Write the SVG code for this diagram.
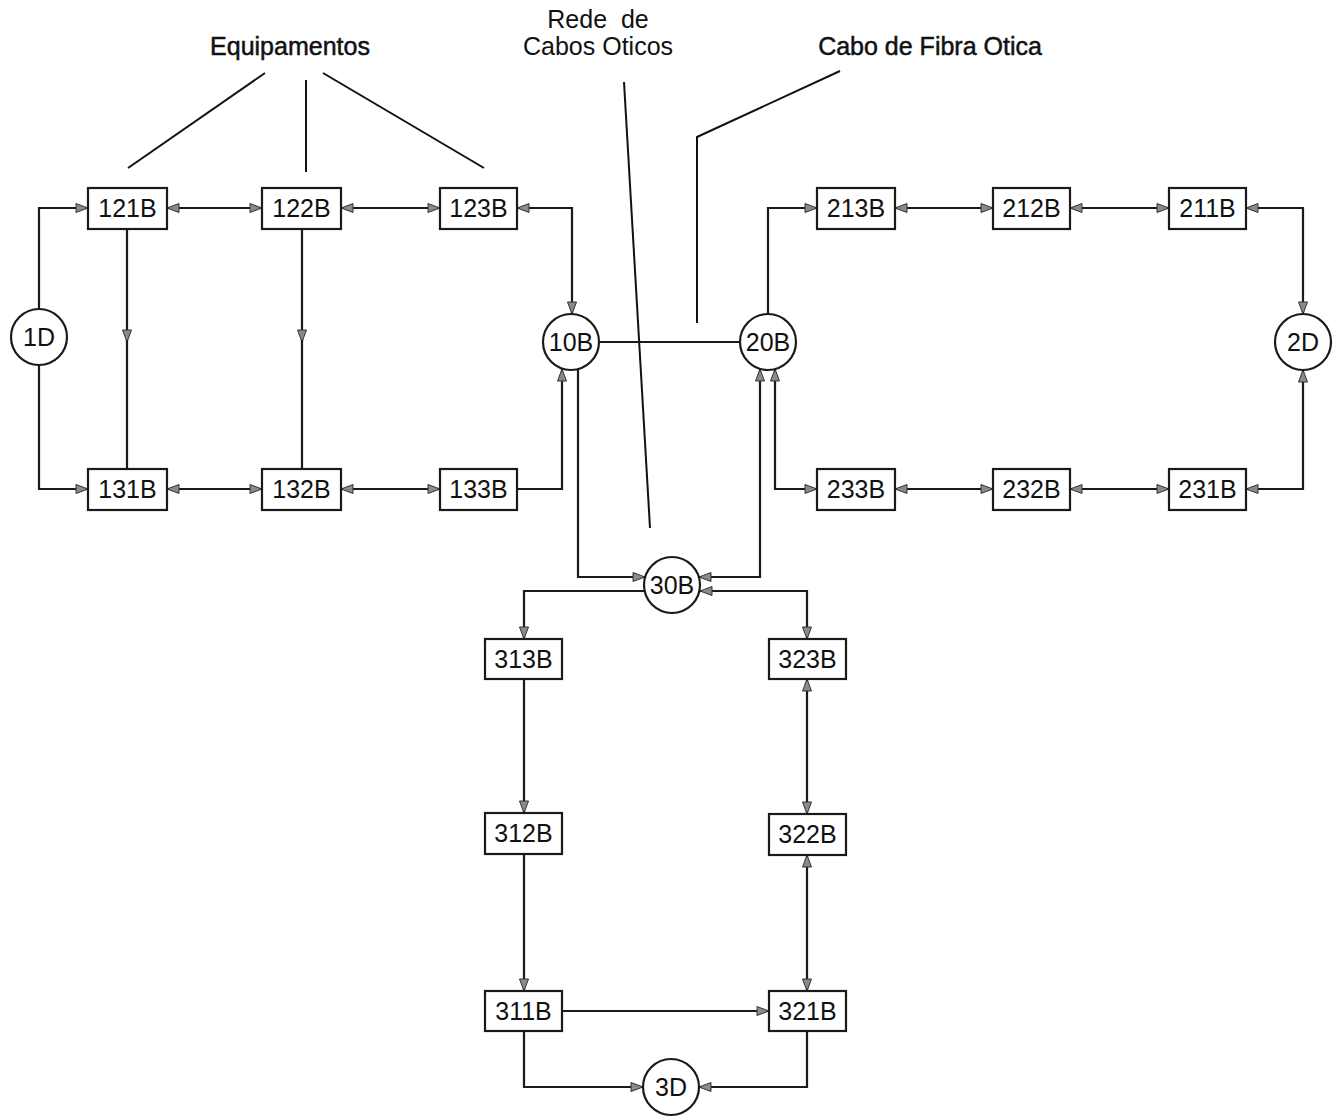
<svg xmlns="http://www.w3.org/2000/svg" width="1339" height="1117" viewBox="0 0 1339 1117">
<style>
.bg{fill:#fff}
.box{fill:#fff;stroke:#1a1a1a;stroke-width:2.2}
.circ{fill:#fff;stroke:#1a1a1a;stroke-width:2.2}
.lbl{font-family:"Liberation Sans",Arial,sans-serif;font-size:25px;fill:#111;text-anchor:middle}
.ann{font-family:"Liberation Sans",Arial,sans-serif;font-size:25px;fill:#111;text-anchor:middle}
.annb{stroke:#111;stroke-width:0.5}
.c{fill:none;stroke:#1a1a1a;stroke-width:2.2}
.e{marker-end:url(#ah)}
.b{marker-start:url(#ah);marker-end:url(#ah)}
.lead{fill:none;stroke:#111;stroke-width:2}
</style>
<defs>
<marker id="ah" markerUnits="userSpaceOnUse" markerWidth="16" markerHeight="14" refX="13" refY="7" orient="auto-start-reverse">
<path d="M1,2.5 L13,7 L1,11.5 z" fill="#8a8a8a" stroke="#333" stroke-width="1"/>
</marker>
</defs>
<rect class="bg" x="0" y="0" width="1339" height="1117"/>

<g id="annotations">
<text class="ann annb" x="290" y="55">Equipamentos</text>
<text class="ann" x="598" y="28" xml:space="preserve">Rede  de</text>
<text class="ann" x="598" y="55">Cabos Oticos</text>
<text class="ann annb" x="930" y="55">Cabo de Fibra Otica</text>
<path class="lead" d="M128,168 L265,73"/>
<path class="lead" d="M306,80 L306,172"/>
<path class="lead" d="M323,73 L484,168"/>
<path class="lead" d="M624,82 L650,528"/>
<path class="lead" d="M840,71 L697,137 L697,323"/>
</g>

<g id="connectors">
<path class="c e" d="M39,309 V208 H88"/>
<path class="c e" d="M39,365 V489 H88"/>
<path class="c b" d="M167,208 H262"/>
<path class="c b" d="M341,208 H440"/>
<path class="c b" d="M517,208 H572 V314"/>
<path class="c e" d="M127,229 V342"/>
<path class="c" d="M127,340 V469"/>
<path class="c e" d="M302,229 V342"/>
<path class="c" d="M302,340 V469"/>
<path class="c b" d="M167,489 H262"/>
<path class="c b" d="M341,489 H440"/>
<path class="c e" d="M517,489 H562 V369"/>
<path class="c e" d="M578,369 V577 H645"/>
<path class="c" d="M599,342 H740"/>
<path class="c e" d="M768,314 V208 H817"/>
<path class="c b" d="M895,208 H993"/>
<path class="c b" d="M1070,208 H1169"/>
<path class="c b" d="M1246,208 H1303 V314"/>
<path class="c b" d="M1303,370 V489 H1246"/>
<path class="c b" d="M895,489 H993"/>
<path class="c b" d="M1070,489 H1169"/>
<path class="c b" d="M775,369 V489 H817"/>
<path class="c b" d="M760,369 V577 H699"/>
<path class="c b" d="M700,591 H807 V639"/>
<path class="c e" d="M644,591 H524 V639"/>
<path class="c e" d="M524,679 V813"/>
<path class="c e" d="M524,854 V991"/>
<path class="c b" d="M807,679 V814"/>
<path class="c b" d="M807,855 V991"/>
<path class="c e" d="M562,1011 H769"/>
<path class="c e" d="M524,1031 V1087 H643"/>
<path class="c e" d="M807,1031 V1087 H699"/>
</g>

<g id="n1D"><circle class="circ" cx="39" cy="337" r="28"/><text class="lbl" x="39" y="346">1D</text></g>
<g id="n10B"><circle class="circ" cx="571" cy="342" r="28"/><text class="lbl" x="571" y="351">10B</text></g>
<g id="n20B"><circle class="circ" cx="768" cy="342" r="28"/><text class="lbl" x="768" y="351">20B</text></g>
<g id="n2D"><circle class="circ" cx="1303" cy="342" r="28"/><text class="lbl" x="1303" y="351">2D</text></g>
<g id="n30B"><circle class="circ" cx="672" cy="585" r="28"/><text class="lbl" x="672" y="594">30B</text></g>
<g id="n3D"><circle class="circ" cx="671" cy="1087" r="28"/><text class="lbl" x="671" y="1096">3D</text></g>

<g id="n121B"><rect class="box" x="88" y="188" width="79" height="41"/><text class="lbl" x="127.5" y="217">121B</text></g>
<g id="n122B"><rect class="box" x="262" y="188" width="79" height="41"/><text class="lbl" x="301.5" y="217">122B</text></g>
<g id="n123B"><rect class="box" x="440" y="188" width="77" height="41"/><text class="lbl" x="478.5" y="217">123B</text></g>
<g id="n131B"><rect class="box" x="88" y="469" width="79" height="41"/><text class="lbl" x="127.5" y="498">131B</text></g>
<g id="n132B"><rect class="box" x="262" y="469" width="79" height="41"/><text class="lbl" x="301.5" y="498">132B</text></g>
<g id="n133B"><rect class="box" x="440" y="469" width="77" height="41"/><text class="lbl" x="478.5" y="498">133B</text></g>
<g id="n213B"><rect class="box" x="817" y="188" width="78" height="41"/><text class="lbl" x="856" y="217">213B</text></g>
<g id="n212B"><rect class="box" x="993" y="188" width="77" height="41"/><text class="lbl" x="1031.5" y="217">212B</text></g>
<g id="n211B"><rect class="box" x="1169" y="188" width="77" height="41"/><text class="lbl" x="1207.5" y="217">211B</text></g>
<g id="n233B"><rect class="box" x="817" y="469" width="78" height="41"/><text class="lbl" x="856" y="498">233B</text></g>
<g id="n232B"><rect class="box" x="993" y="469" width="77" height="41"/><text class="lbl" x="1031.5" y="498">232B</text></g>
<g id="n231B"><rect class="box" x="1169" y="469" width="77" height="41"/><text class="lbl" x="1207.5" y="498">231B</text></g>
<g id="n313B"><rect class="box" x="485" y="639" width="77" height="40"/><text class="lbl" x="523.5" y="668">313B</text></g>
<g id="n312B"><rect class="box" x="485" y="813" width="77" height="41"/><text class="lbl" x="523.5" y="842">312B</text></g>
<g id="n311B"><rect class="box" x="485" y="991" width="77" height="40"/><text class="lbl" x="523.5" y="1020">311B</text></g>
<g id="n323B"><rect class="box" x="769" y="639" width="77" height="40"/><text class="lbl" x="807.5" y="668">323B</text></g>
<g id="n322B"><rect class="box" x="769" y="814" width="77" height="41"/><text class="lbl" x="807.5" y="843">322B</text></g>
<g id="n321B"><rect class="box" x="769" y="991" width="77" height="40"/><text class="lbl" x="807.5" y="1020">321B</text></g>
</svg>
